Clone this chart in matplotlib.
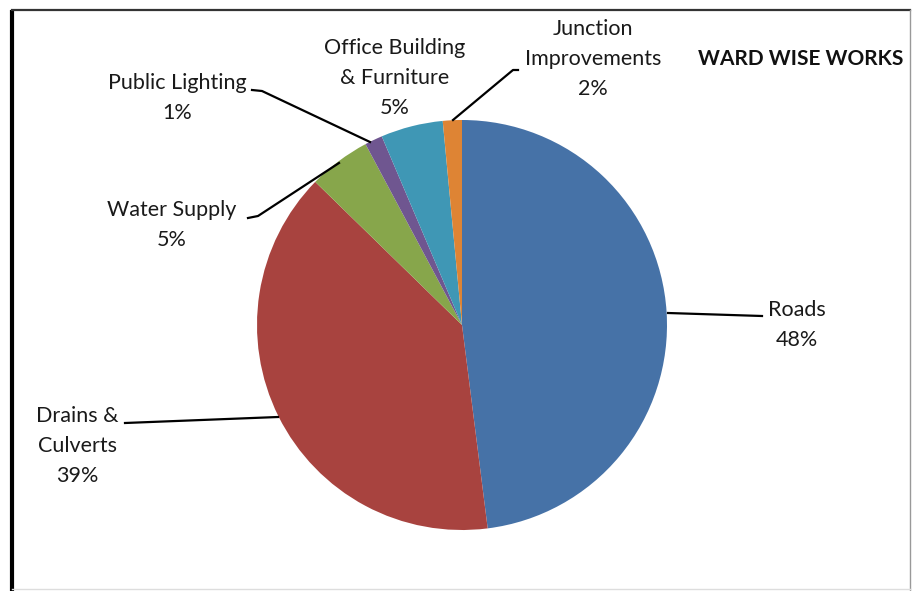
import matplotlib

matplotlib.use("Agg")
import matplotlib.pyplot as plt  # noqa: E402

# slice order: clockwise from 12 o'clock
categories = ["Roads", "Drains &\nCulverts", "Water Supply", "Public Lighting",
              "Office Building\n& Furniture", "Junction\nImprovements"]
shares = [48.0, 39.3, 4.9, 1.4, 4.9, 1.5]
colors = ["#4672A7", "#A8433F", "#87A64B", "#6F5690", "#3F97B5", "#DE8434"]
title = "WARD WISE WORKS"

W, H = 913, 591
CX, CY, R = 462, 325, 205


def fy(y):
    # pixel row (from top) -> data y
    return H - y


fig = plt.figure(figsize=(W / 100, H / 100), dpi=100)
ax = fig.add_axes([0, 0, 1, 1])

ax.pie(shares, colors=colors, startangle=90, counterclock=False,
       center=(CX, fy(CY)), radius=R, frame=True,
       wedgeprops=dict(linewidth=0))
ax.set_xlim(0, W)
ax.set_ylim(0, H)
ax.set_aspect("equal")
ax.axis("off")

# chart frame
ax.plot([12, 12], [fy(591), fy(10)], color="black", lw=3, solid_capstyle="butt")
ax.plot([12, 910], [fy(10), fy(10)], color="#333333", lw=1.6)
ax.plot([910, 910], [fy(10), fy(591)], color="#999999", lw=1)
ax.plot([12, 910], [fy(589), fy(589)], color="#dddddd", lw=1)

font = dict(family="Lato", fontsize=15.5, color="#1a1a1a", ha="center",
            va="center", linespacing=1.6)
pcts = ["%.0f%%" % s for s in shares]

# (label centre x, centre y in px) and leader polyline per slice
label_xy = [(797, 325), (77, 446), (172, 225), (177, 98), (395, 78), (593, 59)]
leaders = [
    [(668, 313), (762, 316)],
    [(278, 417), (125, 423)],
    [(339, 163), (258, 216), (248, 218)],
    [(370, 142), (262, 91), (252, 90)],
    None,
    [(453, 120), (513, 70), (518, 70)],
]

for name, pct, (lx, ly), pts in zip(categories, pcts, label_xy, leaders):
    ax.text(lx, fy(ly), f"{name}\n{pct}", **font)
    if pts:
        xs = [p[0] for p in pts]
        ys = [fy(p[1]) for p in pts]
        ax.plot(xs, ys, color="black", lw=1.6)

ax.text(801, fy(59), title, family="Lato", fontsize=15, weight="bold",
        color="#111111", ha="center", va="center")

fig.savefig("out.png", dpi=100, facecolor="white")
plt.close(fig)
